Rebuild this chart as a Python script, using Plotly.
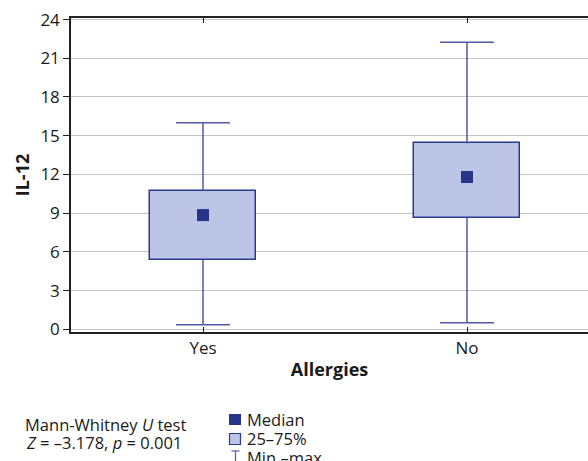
import plotly.graph_objects as go

# ---- data ----
categories = ["Yes", "No"]
q1_vals = [5.4, 8.65]
q3_vals = [10.75, 14.4]
median_vals = [8.85, 11.8]
min_vals = [0.35, 0.5]
max_vals = [16.0, 22.25]
y_ticks = [0, 3, 6, 9, 12, 15, 18, 21, 24]

FONT = "Open Sans"
BOX_FILL = "#bcc5e6"
BOX_LINE = "#2b3990"
WHISKER = "#4e5aa6"
MEDIAN = "#27348b"

W, H = 588, 461
L, R, T, B = 71, 0, 18, 129
PW, PH = W - L - R, H - T - B

def px(x):
    return (x - L) / PW

def py(y):
    return (H - B - y) / PH

xpos = list(range(len(categories)))
box_w = 0.40
cap_half = 0.102

fig = go.Figure()

# IQR boxes
fig.add_trace(go.Bar(
    x=xpos, y=[b - a for a, b in zip(q1_vals, q3_vals)], base=q1_vals,
    width=box_w, marker=dict(color=BOX_FILL, line=dict(color=BOX_LINE, width=1.5)),
    showlegend=False, hoverinfo="skip"))

# whiskers + caps
wx, wy = [], []
for i, (lo, q1, q3, hi) in enumerate(zip(min_vals, q1_vals, q3_vals, max_vals)):
    wx += [i, i, None, i, i, None, i - cap_half, i + cap_half, None, i - cap_half, i + cap_half, None]
    wy += [q3, hi, None, q1, lo, None, hi, hi, None, lo, lo, None]
fig.add_trace(go.Scatter(x=wx, y=wy, mode="lines", line=dict(color=WHISKER, width=1.5),
                         showlegend=False, hoverinfo="skip"))

# medians
fig.add_trace(go.Scatter(x=xpos, y=median_vals, mode="markers",
                         marker=dict(symbol="square", size=12, color=MEDIAN, line=dict(width=0)),
                         showlegend=False))

fig.update_layout(
    width=W, height=H, margin=dict(l=L, r=R, t=T, b=B),
    paper_bgcolor="white", plot_bgcolor="white",
    font=dict(family=FONT, size=17, color="#1a1a1a"),
    bargap=0,
    xaxis=dict(range=[-0.5, -0.5 + PW / 264], tickvals=xpos, ticktext=categories,
               showline=True, linecolor="#222", linewidth=1.5, mirror=False,
               ticks="inside", ticklen=5, tickcolor="#222", tickwidth=1.2,
               showgrid=False, zeroline=False,
               title=dict(text="<b>Allergies</b>", font=dict(size=18), standoff=5)),
    xaxis2=dict(overlaying="x", side="top", matches="x", tickvals=xpos,
                showticklabels=False, showline=True, linecolor="#222", linewidth=1.5,
                ticks="inside", ticklen=5, tickcolor="#222", tickwidth=1.2,
                showgrid=False, zeroline=False),
    yaxis=dict(range=[-0.21, 24.12], tickvals=y_ticks,
               showline=True, linecolor="#222", linewidth=1.5, mirror=False,
               ticks="outside", ticklen=6, tickcolor="#222", tickwidth=1.2,
               showgrid=True, gridcolor="#c4c4c4", gridwidth=1.3, zeroline=False,
               title=dict(text="<b>IL-12</b>", font=dict(size=18), standoff=6)),
)
# invisible trace to activate the top axis
fig.add_trace(go.Scatter(x=[xpos[0]], y=[median_vals[0]], xaxis="x2", mode="markers",
                         marker=dict(opacity=0), showlegend=False, hoverinfo="skip"))

# statistics note
fig.add_annotation(x=px(105), y=py(424), xref="paper", yref="paper",
                   text="Mann-Whitney <i>U</i> test", showarrow=False,
                   xanchor="center", yanchor="middle", font=dict(size=16.5))
fig.add_annotation(x=px(104), y=py(442.5), xref="paper", yref="paper",
                   text="<i>Z</i> = –3.178, <i>p</i> = 0.001", showarrow=False,
                   xanchor="center", yanchor="middle", font=dict(size=16.5))

# legend (drawn manually)
legend_items = ["Median", "25–75%", "Min.–max."]
for k, label in enumerate(legend_items):
    fig.add_annotation(x=px(245), y=py(419.5 + 19 * k), xref="paper", yref="paper",
                       text=label, showarrow=False, xanchor="left", yanchor="middle",
                       font=dict(size=16.5))
fig.add_shape(type="rect", xref="paper", yref="paper",
              x0=px(229), x1=px(241), y0=py(425), y1=py(414),
              fillcolor=MEDIAN, line=dict(width=0))
fig.add_shape(type="rect", xref="paper", yref="paper",
              x0=px(229.5), x1=px(240.5), y0=py(444.5), y1=py(433.5),
              fillcolor=BOX_FILL, line=dict(color=BOX_LINE, width=1.2))
fig.add_shape(type="line", xref="paper", yref="paper",
              x0=px(235.5), x1=px(235.5), y0=py(451), y1=py(462),
              line=dict(color=WHISKER, width=1.2))
fig.add_shape(type="line", xref="paper", yref="paper",
              x0=px(231.5), x1=px(239.5), y0=py(451), y1=py(451),
              line=dict(color=WHISKER, width=1.2))

fig.write_html("out.html", config={"displayModeBar": False},
               post_script="document.body.style.margin='0';document.body.style.overflow='hidden';")
